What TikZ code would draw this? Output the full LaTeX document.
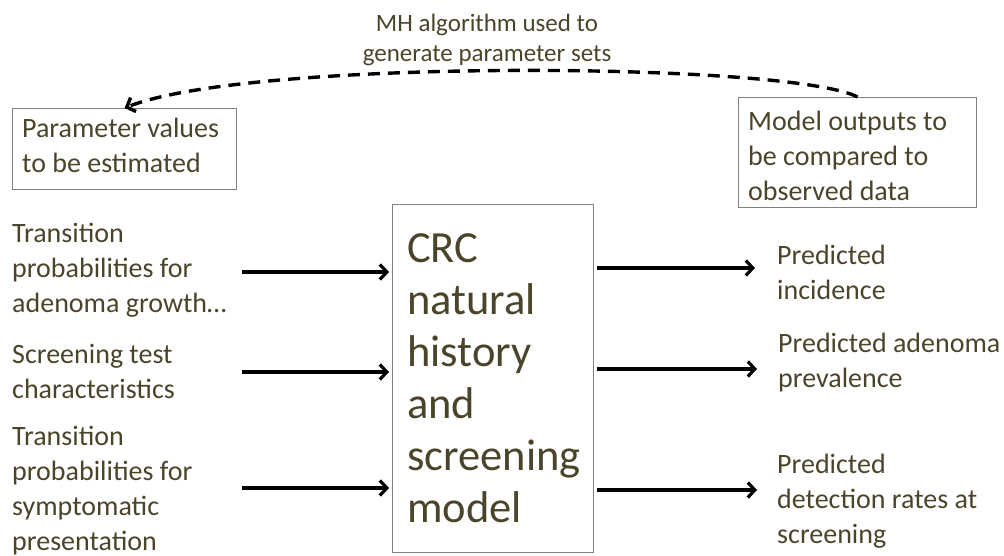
\documentclass[tikz,border=0pt]{standalone}
\usepackage{fontspec}
\setmainfont{Carlito}
\usetikzlibrary{arrows.meta}
\definecolor{txtcol}{HTML}{4A452A}
\definecolor{boxcol}{HTML}{7F7F7F}
\newcommand{\mylinesl}[1]{\begin{tabular}[t]{@{}l@{}}#1\end{tabular}}
\newcommand{\mylinesc}[1]{\begin{tabular}[t]{@{}c@{}}#1\end{tabular}}
\tikzset{
  txt/.style={anchor=base west, inner sep=0pt, text=txtcol, font=\fontsize{28}{35}\selectfont},
  bigtxt/.style={anchor=base west, inner sep=0pt, text=txtcol, font=\fontsize{44.5}{52}\selectfont},
  ttltxt/.style={anchor=base, inner sep=0pt, text=txtcol, font=\fontsize{25}{30}\selectfont},
  boxrect/.style={draw=boxcol, line width=1.3pt, anchor=north west, inner sep=0pt},
  arr/.style={line width=3.2pt, -{Straight Barb[length=7pt,width=15pt]}},
  dasharr/.style={line width=3.4pt, dash pattern=on 12pt off 8pt, -{Straight Barb[length=7pt,width=15pt]}}
}
\begin{document}
\begin{tikzpicture}[x=1pt,y=-1pt]
\useasboundingbox (0,0) rectangle (1004,556);

% boxes
\node[boxrect, minimum width=224pt, minimum height=81pt] (pbox) at (12,108) {};
\node[boxrect, minimum width=238pt, minimum height=110pt] (obox) at (738,97) {};
\node[boxrect, minimum width=201pt, minimum height=348pt] (crc) at (392,204) {};

% title
\node[ttltxt] (title) at (487,32) {\mylinesc{MH algorithm used to\\generate parameter sets}};

% box texts
\node[txt] (ptext) at (22,138) {\mylinesl{Parameter values\\to be estimated}};
\node[txt] (otext) at (748,131) {\mylinesl{Model outputs to\\be compared to\\observed data}};
\node[bigtxt] (crctext) at (407,262) {\mylinesl{CRC\\natural\\history\\and\\screening\\model}};

% inputs
\node[txt] (in1) at (12,243) {\mylinesl{Transition\\probabilities for\\adenoma growth\ldots}};
\node[txt] (in2) at (12,363) {\mylinesl{Screening test\\characteristics}};
\node[txt] (in3) at (12,445) {\mylinesl{Transition\\probabilities for\\symptomatic\\presentation}};

% outputs
\node[txt] (out1) at (777,265) {\mylinesl{Predicted\\incidence}};
\node[txt] (out2) at (778,352) {\mylinesl{Predicted adenoma\\prevalence}};
\node[txt] (out3) at (777,473) {\mylinesl{Predicted\\detection rates at\\screening}};

% connector ends
\coordinate (a1) at (242,272);
\coordinate (a2) at (242,372);
\coordinate (a3) at (242,488);
\coordinate (b1) at (755,268);
\coordinate (b2) at (757,369);
\coordinate (b3) at (757,490);

\draw[arr, shorten >=3pt] (a1) -- (a1 -| crc.west);
\draw[arr, shorten >=3pt] (a2) -- (a2 -| crc.west);
\draw[arr, shorten >=3pt] (a3) -- (a3 -| crc.west);
\draw[arr, shorten <=3pt] (b1 -| crc.east) -- (b1);
\draw[arr, shorten <=3pt] (b2 -| crc.east) -- (b2);
\draw[arr, shorten <=3pt] (b3 -| crc.east) -- (b3);

% MH loop
\draw[dasharr] (obox.north) .. controls (790,62) and (250,58) .. (pbox.north);
\end{tikzpicture}
\end{document}
